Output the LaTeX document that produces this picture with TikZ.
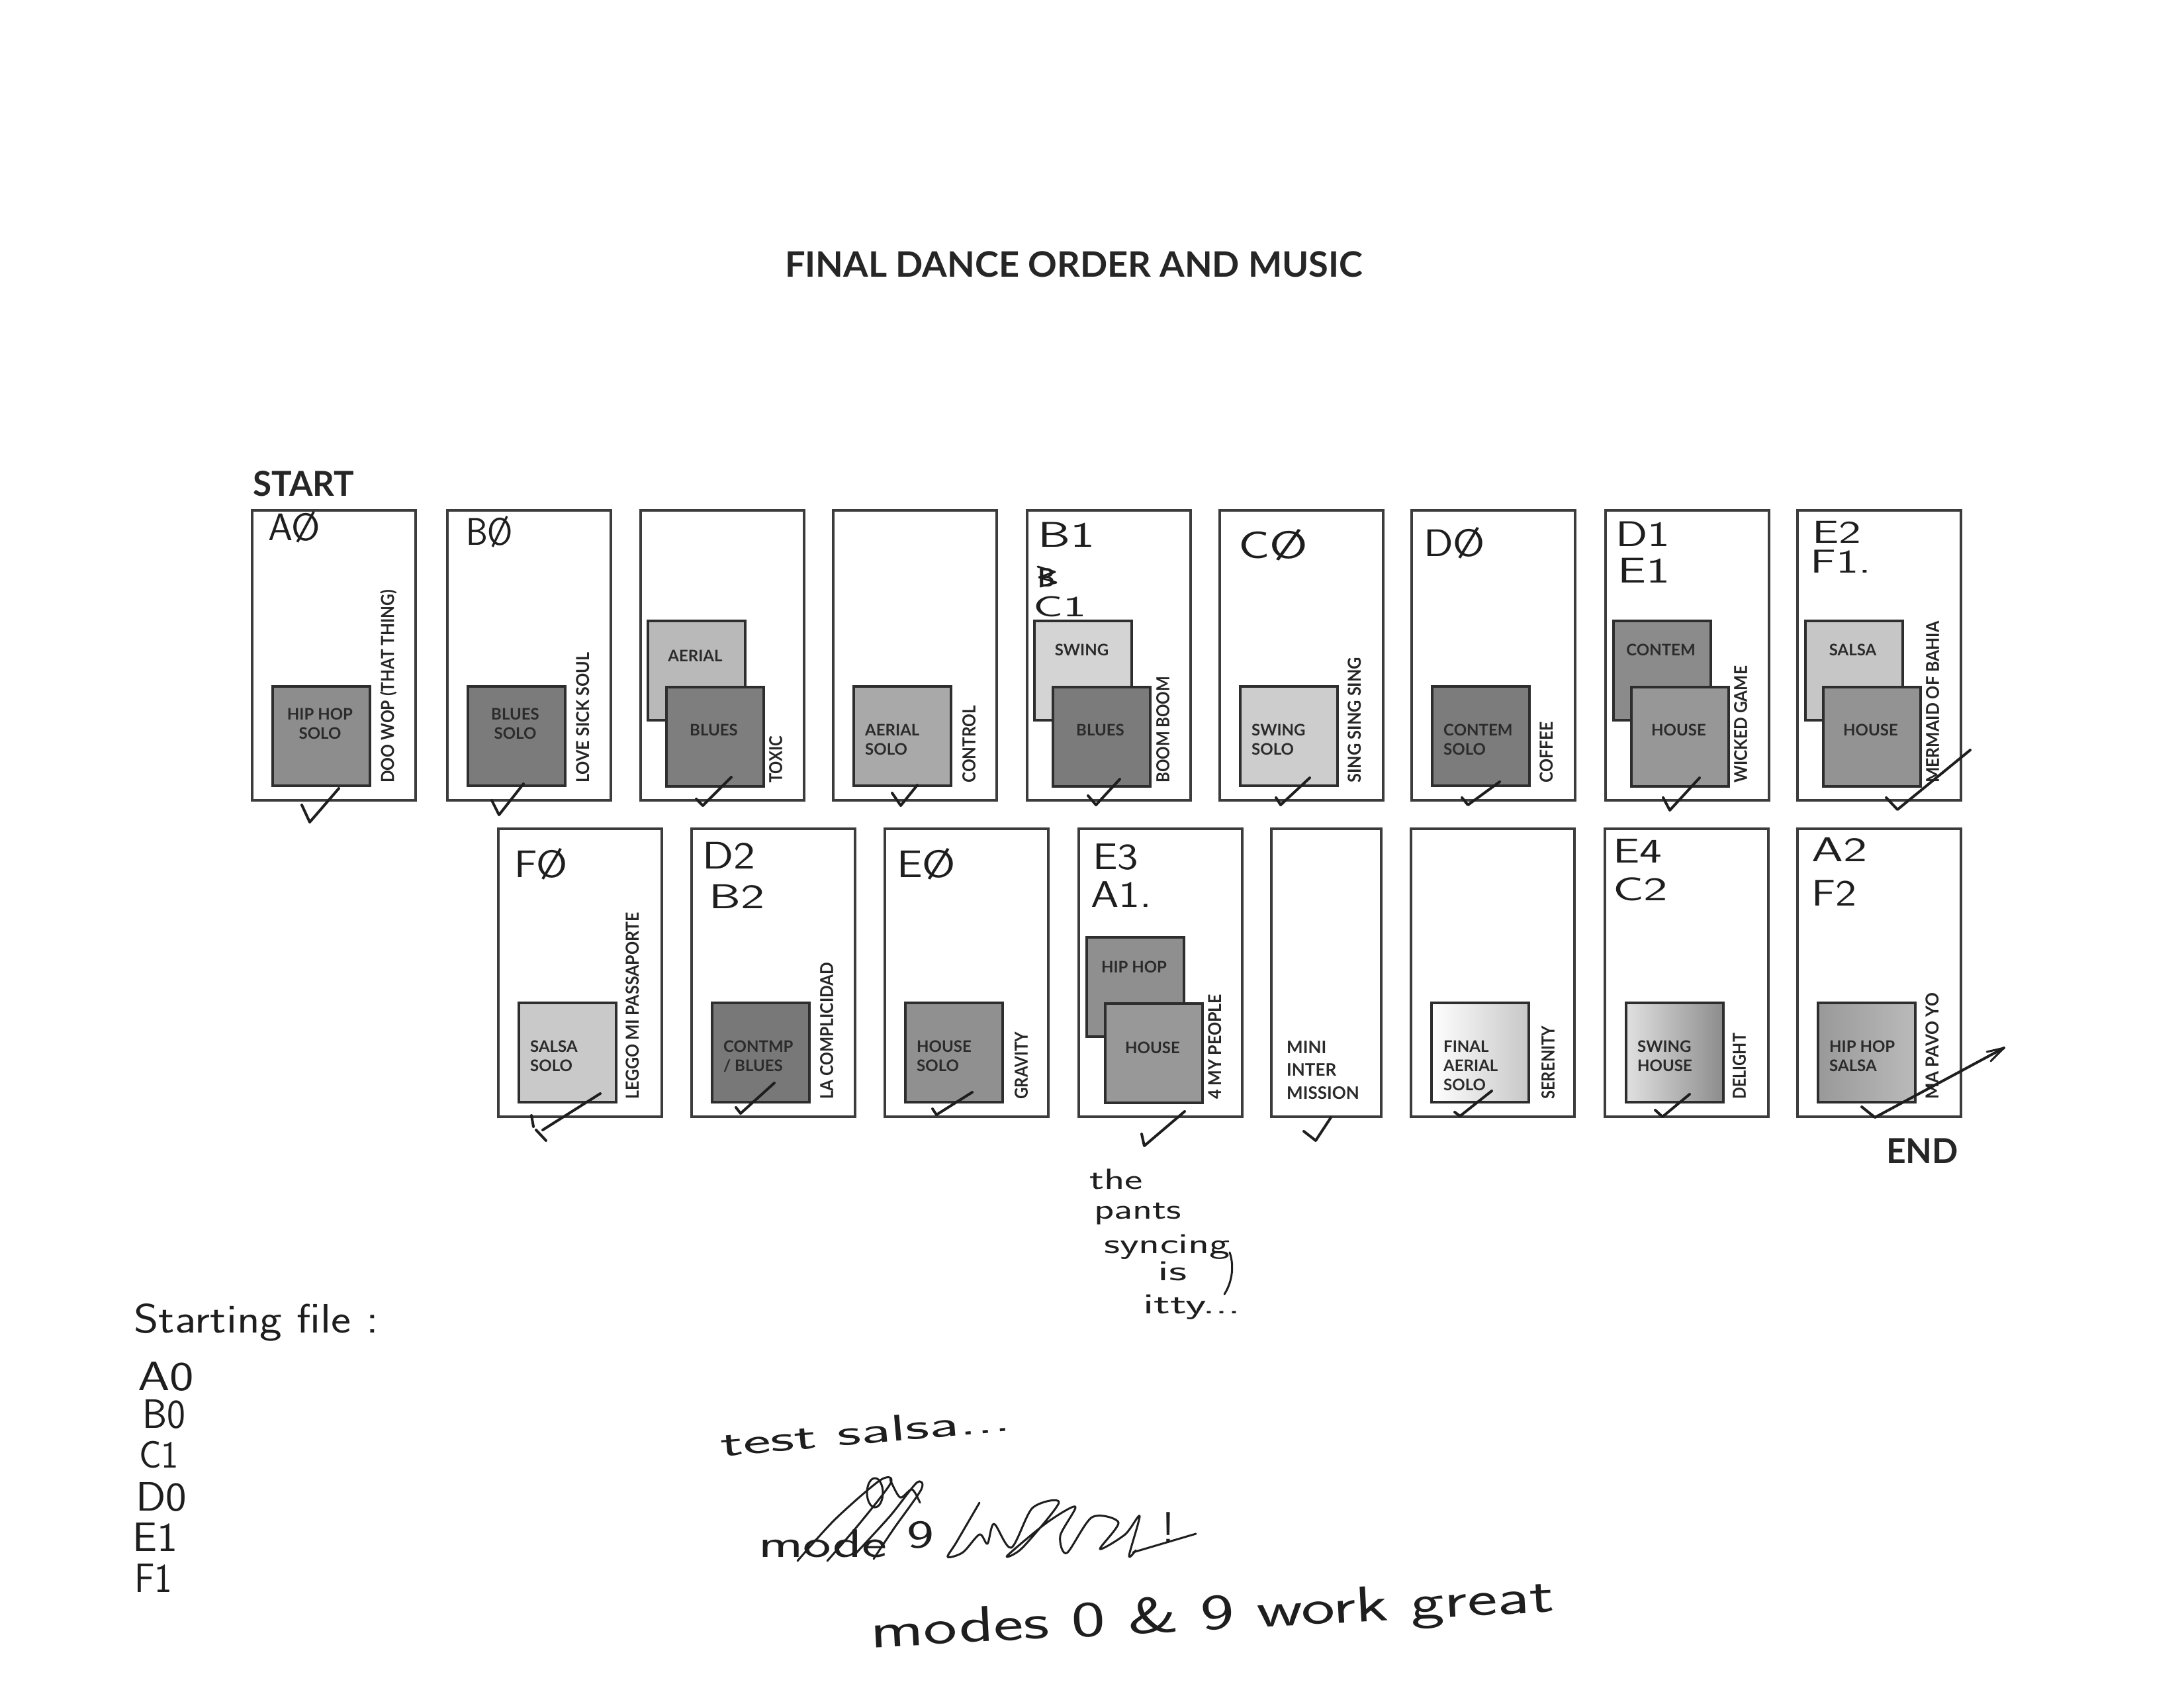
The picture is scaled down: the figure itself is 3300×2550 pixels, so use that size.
\documentclass[tikz,border=0pt]{standalone}
\usepackage{fontspec}
\usepackage{graphicx}
\newfontfamily\lato{Lato}
\definecolor{boxline}{HTML}{3C3C3C}
\definecolor{sqline}{HTML}{2E2E2E}
\definecolor{sqtext}{HTML}{2B2B2B}
\definecolor{songc}{HTML}{262626}
\definecolor{ink}{HTML}{1E1E1E}
\definecolor{gA}{HTML}{8D8D8D}
\definecolor{gB}{HTML}{7B7B7B}
\definecolor{gCb}{HTML}{B9B9B9}
\definecolor{gCf}{HTML}{7E7E7E}
\definecolor{gD}{HTML}{A9A9A9}
\definecolor{gEb}{HTML}{D4D4D4}
\definecolor{gF}{HTML}{CDCDCD}
\definecolor{gG}{HTML}{7C7C7C}
\definecolor{gHb}{HTML}{8B8B8B}
\definecolor{gHf}{HTML}{979797}
\definecolor{gIb}{HTML}{C6C6C6}
\definecolor{gIf}{HTML}{939393}
\definecolor{gJ}{HTML}{C9C9C9}
\definecolor{gK}{HTML}{787878}
\definecolor{gL}{HTML}{909090}
\definecolor{gMb}{HTML}{8F8F8F}
\definecolor{gMf}{HTML}{989898}
\newsavebox\fitbox
\newcommand\fitw[2]{\sbox\fitbox{#2}\pgfmathsetmacro\fitr{#1/\the\wd\fitbox}\scalebox{\fitr}[1]{\usebox\fitbox}}
\newcommand\latob[1]{\lato\bfseries\fontsize{#1}{#1}\selectfont}
\newcommand\hwf[1]{\sffamily\fontsize{#1}{#1}\selectfont}
\begin{document}
\begin{tikzpicture}[x=1pt,y=-1pt,
  slot/.style={draw=boxline, line width=3.5pt, fill=white, anchor=north west, inner sep=0pt, minimum width=247pt, minimum height=438pt},
  slottwo/.style={slot, minimum height=435pt},
  sqr/.style={draw=sqline, line width=4pt, anchor=north west, inner sep=0pt, minimum width=147pt, minimum height=150pt},
  sqlab/.style={inner sep=0pt, text=sqtext, font=\lato\bfseries\fontsize{24}{29}\selectfont},
  song/.style={rotate=90, anchor=west, inner sep=0pt, text=songc},
  hwtext/.style={inner sep=0pt, text=ink, anchor=base west},
  chk/.style={draw=ink, line width=4pt, line cap=round, line join=round},
  scrib/.style={draw=ink, line width=3pt, line cap=round, line join=round}]
\fill[white] (0,0) rectangle (3300,2550);
\path[use as bounding box] (0,0) rectangle (3300,2550);

% title and markers
\node[inner sep=0pt, anchor=base west, text=songc] (title) at (1186,418) {\fitw{873}{\latob{53}FINAL DANCE ORDER AND MUSIC}};
\node[inner sep=0pt, anchor=base west, text=songc] (start) at (382,749) {\fitw{153}{\latob{52}START}};
\node[inner sep=0pt, anchor=base west, text=songc] (end) at (2850,1757) {\fitw{109}{\latob{52}END}};

% ===== row 1 =====
\node[slot] (bA) at (379,769) {};
\node[sqr, fill=gA] (qA) at (410,1035) {};
\node[sqlab, anchor=north, align=center] (tA) at (483.5,1070) {HIP HOP\\SOLO};
\node[song] (sA) at (587,1183) {\fitw{292}{\latob{27}DOO WOP (THAT THING)}};

\node[slot] (bB) at (674,769) {};
\node[sqr, fill=gB] (qB) at (705,1035) {};
\node[sqlab, anchor=north, align=center] (tB) at (778.5,1070) {BLUES\\SOLO};
\node[song] (sB) at (881,1183) {\fitw{197}{\latob{27}LOVE SICK SOUL}};

\node[slot] (bC) at (966,769) {};
\node[sqr, fill=gCb] (qCb) at (977,936) {};
\node[sqlab, anchor=north] (tCb) at (1050.5,982) {AERIAL};
\node[sqr, fill=gCf] (qCf) at (1005,1036) {};
\node[sqlab, anchor=north] (tCf) at (1078.5,1094) {BLUES};
\node[song] (sC) at (1172,1183) {\fitw{71}{\latob{27}TOXIC}};

\node[slot] (bD) at (1257,769) {};
\node[sqr, fill=gD] (qD) at (1288,1035) {};
\node[sqlab, anchor=north west, align=left] (tD) at (1307,1094) {AERIAL\\SOLO};
\node[song] (sD) at (1464,1183) {\fitw{117}{\latob{27}CONTROL}};

\node[slot] (bE) at (1550,769) {};
\node[sqr, fill=gEb] (qEb) at (1561,936) {};
\node[sqlab, anchor=north] (tEb) at (1634.5,973) {SWING};
\node[sqr, fill=gB] (qEf) at (1589,1036) {};
\node[sqlab, anchor=north] (tEf) at (1662.5,1094) {BLUES};
\node[song] (sE) at (1757,1183) {\fitw{161}{\latob{27}BOOM BOOM}};

\node[slot] (bF) at (1841,769) {};
\node[sqr, fill=gF] (qF) at (1872,1035) {};
\node[sqlab, anchor=north west, align=left] (tF) at (1891,1094) {SWING\\SOLO};
\node[song] (sF) at (2047,1183) {\fitw{190}{\latob{27}SING SING SING}};

\node[slot] (bG) at (2131,769) {};
\node[sqr, fill=gG] (qG) at (2162,1035) {};
\node[sqlab, anchor=north west, align=left] (tG) at (2181,1094) {CONTEM\\SOLO};
\node[song] (sG) at (2337,1183) {\fitw{93}{\latob{27}COFFEE}};

\node[slot] (bH) at (2424,769) {};
\node[sqr, fill=gHb] (qHb) at (2436,936) {};
\node[sqlab, anchor=north] (tHb) at (2509.5,973) {CONTEM};
\node[sqr, fill=gHf] (qHf) at (2463,1036) {};
\node[sqlab, anchor=north] (tHf) at (2536.5,1094) {HOUSE};
\node[song] (sH) at (2630,1183) {\fitw{177}{\latob{27}WICKED GAME}};

\node[slot] (bI) at (2714,769) {};
\node[sqr, fill=gIb] (qIb) at (2726,936) {};
\node[sqlab, anchor=north] (tIb) at (2799.5,973) {SALSA};
\node[sqr, fill=gIf] (qIf) at (2753,1036) {};
\node[sqlab, anchor=north] (tIf) at (2826.5,1094) {HOUSE};
\node[song] (sI) at (2920,1183) {\fitw{244}{\latob{27}MERMAID OF BAHIA}};

% ===== row 2 =====
\node[slottwo] (bJ) at (751,1250) {};
\node[sqr, fill=gJ] (qJ) at (782,1513) {};
\node[sqlab, anchor=north west, align=left] (tJ) at (801,1572) {SALSA\\SOLO};
\node[song] (sJ) at (956,1661) {\fitw{283}{\latob{27}LEGGO MI PASSAPORTE}};

\node[slottwo] (bK) at (1043,1250) {};
\node[sqr, fill=gK] (qK) at (1074,1513) {};
\node[sqlab, anchor=north west, align=left] (tK) at (1093,1572) {CONTMP\\/ BLUES};
\node[song] (sK) at (1249,1661) {\fitw{207}{\latob{27}LA COMPLICIDAD}};

\node[slottwo] (bL) at (1335,1250) {};
\node[sqr, fill=gL] (qL) at (1366,1513) {};
\node[sqlab, anchor=north west, align=left] (tL) at (1385,1572) {HOUSE\\SOLO};
\node[song] (sL) at (1543,1661) {\fitw{102}{\latob{27}GRAVITY}};

\node[slottwo] (bM) at (1628,1250) {};
\node[sqr, fill=gMb] (qMb) at (1640,1414) {};
\node[sqlab, anchor=north] (tMb) at (1713.5,1452) {HIP HOP};
\node[sqr, fill=gMf] (qMf) at (1668,1514) {};
\node[sqlab, anchor=north] (tMf) at (1741.5,1574) {HOUSE};
\node[song] (sM) at (1836,1661) {\fitw{159}{\latob{27}4 MY PEOPLE}};

\node[slottwo, minimum width=166pt] (bN) at (1919,1250) {};
\node[sqlab, anchor=north west, align=left, font=\lato\bfseries\fontsize{26}{34.5}\selectfont] (tN) at (1944,1572) {MINI\\INTER\\MISSION};

\node[slottwo] (bO) at (2130,1250) {};
\node[sqr, left color=white, right color=black!22] (qO) at (2161,1513) {};
\node[sqlab, anchor=north west, align=left] (tO) at (2181,1572) {FINAL\\AERIAL\\SOLO};
\node[song] (sO) at (2339,1661) {\fitw{111}{\latob{27}SERENITY}};

\node[slottwo] (bP) at (2423,1250) {};
\node[sqr, left color=black!12, right color=black!45] (qP) at (2455,1513) {};
\node[sqlab, anchor=north west, align=left] (tP) at (2474,1572) {SWING\\HOUSE};
\node[song] (sP) at (2628,1661) {\fitw{100}{\latob{27}DELIGHT}};

\node[slottwo] (bQ) at (2714,1250) {};
\node[sqr, left color=black!40, right color=black!27] (qQ) at (2745,1513) {};
\node[sqlab, anchor=north west, align=left] (tQ) at (2764,1572) {HIP HOP\\SALSA};
\node[song] (sQ) at (2920,1661) {\fitw{161}{\latob{27}MA PAVO YO}};

% ===== handwritten slot codes =====
\node[hwtext] (hA) at (405,816) {\fitw{79}{\hwf{58}AØ}};
\node[hwtext] (hB) at (704,823) {\fitw{71}{\hwf{58}BØ}};
\node[hwtext] (hE1) at (1568,826) {\fitw{86}{\hwf{54}B1}};
\node[hwtext] (hE2) at (1568,886) {\fitw{26}{\hwf{40}\bfseries B}};
\draw[scrib] (1568,856) -- (1594,864) -- (1570,872) -- (1596,880) -- (1572,886);
\node[hwtext] (hE3) at (1561,931) {\fitw{80}{\hwf{44}C1}};
\node[hwtext] (hF) at (1871,843) {\fitw{105}{\hwf{58}CØ}};
\node[hwtext] (hG) at (2151,840) {\fitw{93}{\hwf{58}DØ}};
\node[hwtext] (hH1) at (2441,825) {\fitw{82}{\hwf{54}D1}};
\node[hwtext] (hH2) at (2444,880) {\fitw{79}{\hwf{54}E1}};
\node[hwtext] (hI1) at (2738,820) {\fitw{74}{\hwf{48}E2}};
\node[hwtext] (hI2) at (2735,865) {\fitw{92}{\hwf{50}F1.}};
\node[hwtext] (hJ) at (777,1325) {\fitw{80}{\hwf{58}FØ}};
\node[hwtext] (hK1) at (1061,1312) {\fitw{80}{\hwf{58}D2}};
\node[hwtext] (hK2) at (1071,1372) {\fitw{84}{\hwf{52}B2}};
\node[hwtext] (hL) at (1355,1325) {\fitw{89}{\hwf{58}EØ}};
\node[hwtext] (hM1) at (1651,1313) {\fitw{69}{\hwf{56}E3}};
\node[hwtext] (hM2) at (1648,1370) {\fitw{92}{\hwf{56}A1.}};
\node[hwtext] (hP1) at (2437,1303) {\fitw{74}{\hwf{52}E4}};
\node[hwtext] (hP2) at (2437,1360) {\fitw{83}{\hwf{50}C2}};
\node[hwtext] (hQ1) at (2737,1301) {\fitw{84}{\hwf{52}A2}};
\node[hwtext] (hQ2) at (2737,1368) {\fitw{68}{\hwf{56}F2}};

% ===== check marks =====
\draw[chk] (456,1216) -- (468,1242) -- (512,1191);
\draw[chk] (743,1209) -- (754,1231) -- (791,1184);
\draw[chk] (1052,1207) -- (1062,1217) -- (1105,1174);
\draw[chk] (1348,1198) -- (1361,1217) -- (1386,1186);
\draw[chk] (1644,1202) -- (1656,1216) -- (1692,1177);
\draw[chk] (1928,1205) -- (1935,1216) -- (1979,1175);
\draw[chk] (2209,1205) -- (2218,1216) -- (2266,1181);
\draw[chk] (2513,1205) -- (2523,1224) -- (2568,1175);
\draw[chk] (2850,1205) -- (2867,1223) -- (2977,1133);
\draw[chk] (907,1652) -- (820,1707);
\draw[chk] (803,1685) -- (806,1702);
\draw[chk] (810,1707) -- (825,1723);
\draw[chk] (1112,1673) -- (1119,1682) -- (1170,1636);
\draw[chk] (1409,1675) -- (1415,1684) -- (1469,1650);
\draw[chk] (1725,1713) -- (1729,1731) -- (1790,1679);
\draw[chk] (1970,1709) -- (1988,1723) -- (2011,1688);
\draw[chk] (2198,1680) -- (2206,1686) -- (2254,1648);
\draw[chk] (2501,1677) -- (2512,1687) -- (2553,1653);
\draw[chk] (2813,1672) -- (2833,1688) -- (3028,1583);
\draw[chk, line width=3pt] (3008,1603) -- (3028,1583) -- (3002,1589);

% ===== notes =====
\node[hwtext] (n1) at (1646,1796) {\fitw{81}{\hwf{44}the}};
\node[hwtext] (n2) at (1653,1841) {\fitw{132}{\hwf{44}pants}};
\node[hwtext] (n3) at (1668,1893) {\fitw{191}{\hwf{44}syncing}};
\draw[scrib] (1858,1892) .. controls (1866,1915) and (1860,1940) .. (1850,1955);
\node[hwtext] (n4) at (1749,1934) {\fitw{44}{\hwf{44}is}};
\node[hwtext] (n5) at (1727,1984) {\fitw{147}{\hwf{44}itty...}};

\node[hwtext] (sf) at (202,2013) {\fitw{370}{\hwf{62}Starting file :}};
\node[hwtext] (l1) at (208,2100) {\fitw{85}{\hwf{62}A0}};
\node[hwtext] (l2) at (215,2157) {\fitw{65}{\hwf{62}B0}};
\node[hwtext] (l3) at (210,2217) {\fitw{60}{\hwf{58}C1}};
\node[hwtext] (l4) at (205,2282) {\fitw{77}{\hwf{62}D0}};
\node[hwtext] (l5) at (200,2343) {\fitw{68}{\hwf{62}E1}};
\node[hwtext] (l6) at (203,2405) {\fitw{57}{\hwf{62}F1}};

\node[hwtext, rotate=5] (ts) at (1090,2200) {\fitw{440}{\hwf{56}test salsa...}};

\node[hwtext] (md) at (1146,2352) {\fitw{194}{\hwf{60}mode}};
\node[hwtext] (m9) at (1370,2338) {\fitw{41}{\hwf{60}9}};
\node[hwtext] (mx) at (1755,2330) {\hwf{66}!};
\draw[scrib] plot[smooth] coordinates {(1205,2358) (1262,2295) (1330,2236) (1346,2240) (1300,2300) (1250,2358)};
\draw[scrib] plot[smooth] coordinates {(1290,2350) (1345,2290) (1385,2240) (1392,2250) (1350,2310) (1320,2355)};
\draw[scrib] (1322,2255) ellipse [x radius=12, y radius=22];
\draw[scrib] plot[smooth] coordinates {(1345,2235) (1360,2262) (1378,2250) (1390,2270)};
\draw[scrib] plot[smooth] coordinates {(1480,2270) (1445,2330) (1432,2352) (1455,2345) (1480,2318) (1492,2332) (1502,2302) (1528,2338) (1560,2278) (1600,2270) (1545,2338) (1522,2350) (1582,2300) (1625,2276) (1602,2320) (1612,2346) (1650,2292) (1690,2300) (1662,2340) (1700,2318) (1722,2290) (1706,2350) (1716,2342)};
\draw[scrib] (1712,2345) -- (1807,2317);

\node[hwtext, rotate=3] (mg) at (1316,2489) {\fitw{1034}{\hwf{76}modes 0 \& 9 work great}};
\end{tikzpicture}
\end{document}
